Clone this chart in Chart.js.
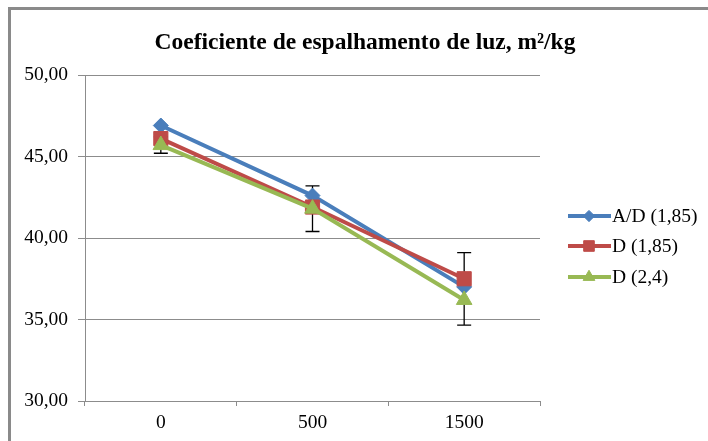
<!DOCTYPE html>
<html>
<head>
<meta charset="utf-8">
<script src="https://cdn.jsdelivr.net/npm/chart.js@4/dist/chart.umd.min.js"></script>
<style>
  html, body { margin: 0; padding: 0; background: #fff; }
  #wrap { width: 708px; height: 441px; }
</style>
</head>
<body>
<div id="wrap"><canvas id="c" width="708" height="441"></canvas></div>
<script>
// Dose categories
const categories = ['0', '500', '1500'];

// Light scattering coefficient per series
const seriesNames = ['A/D (1,85)', 'D (1,85)', 'D (2,4)'];
const valuesAD185 = [46.9, 42.6, 37.0];
const valuesD185 = [46.1, 41.9, 37.5];
const valuesD24 = [45.7, 41.8, 36.2];

// Error bar ends at each category
const errLow = [45.2, 40.4, 34.65];
const errHigh = [46.2, 43.2, 39.1];

// Y-axis tick values
const yTicks = [30, 35, 40, 45, 50];

const titleText = 'Coeficiente de espalhamento de luz, m²/kg';
const SERIF = '"Liberation Serif", "Times New Roman", serif';

const colors = ['#4A7EBB', '#BE4B48', '#98B954'];
const pointStyles = ['rectRot', 'rect', 'triangle'];
const pointRadii = [7.5, 10, 9];

const seriesValues = [valuesAD185, valuesD185, valuesD24];

const datasets = seriesValues.map((vals, i) => ({
  label: seriesNames[i],
  data: vals,
  borderColor: colors[i],
  backgroundColor: colors[i],
  borderWidth: 4,
  pointStyle: pointStyles[i],
  pointRadius: pointRadii[i],
  pointBorderWidth: 1,
  pointBackgroundColor: colors[i],
  pointBorderColor: colors[i],
  tension: 0,
  order: 3 - i
}));

// Frame, title and custom legend
const decorations = {
  id: 'decorations',
  beforeDraw(chart) {
    const ctx = chart.ctx;
    ctx.save();
    ctx.fillStyle = '#ffffff';
    ctx.fillRect(0, 0, chart.width, chart.height);
    ctx.fillStyle = '#8a8a8a';
    ctx.fillRect(8, 7, chart.width - 8, 3);
    ctx.fillRect(8, 7, 3, chart.height - 7);
    ctx.restore();
  },
  afterDraw(chart) {
    const ctx = chart.ctx;
    ctx.save();
    ctx.fillStyle = '#000';
    ctx.font = 'bold 23.5px ' + SERIF;
    ctx.textAlign = 'center';
    ctx.textBaseline = 'middle';
    ctx.fillText(titleText, 365, 43);

    // legend entries: line + marker + label
    const rowY = [216, 246, 277];
    ctx.font = '19.5px ' + SERIF;
    ctx.textAlign = 'left';
    chart.data.datasets.forEach((ds, i) => {
      const y = rowY[i];
      ctx.strokeStyle = ds.borderColor;
      ctx.lineWidth = 4;
      ctx.beginPath();
      ctx.moveTo(568, y);
      ctx.lineTo(611, y);
      ctx.stroke();
      ctx.fillStyle = ds.borderColor;
      ctx.strokeStyle = ds.borderColor;
      ctx.lineWidth = 1;
      Chart.helpers.drawPoint(ctx, {
        pointStyle: ds.pointStyle,
        radius: ds.pointRadius * 0.75,
        borderWidth: 1
      }, 589, y);
      ctx.fillStyle = '#000';
      ctx.fillText(ds.label, 612, y + 1);
    });
    ctx.restore();
  }
};

// Vertical error bars with caps, drawn beneath the series
const errorBars = {
  id: 'errorBars',
  beforeDatasetsDraw(chart) {
    const ctx = chart.ctx;
    const xs = chart.scales.x;
    const ys = chart.scales.y;
    ctx.save();
    ctx.strokeStyle = '#000';
    ctx.lineWidth = 1.3;
    categories.forEach((c, i) => {
      const x = xs.getPixelForValue(i);
      const yl = ys.getPixelForValue(errLow[i]);
      const yh = ys.getPixelForValue(errHigh[i]);
      ctx.beginPath();
      ctx.moveTo(x, yl);
      ctx.lineTo(x, yh);
      ctx.moveTo(x - 7, yl);
      ctx.lineTo(x + 7, yl);
      ctx.moveTo(x - 7, yh);
      ctx.lineTo(x + 7, yh);
      ctx.stroke();
    });
    ctx.restore();
  }
};

new Chart(document.getElementById('c'), {
  type: 'line',
  data: { labels: categories, datasets },
  options: {
    responsive: false,
    animation: false,
    layout: { padding: { top: 75, right: 168, left: 0, bottom: 0 } },
    plugins: {
      legend: { display: false },
      title: { display: false },
      tooltip: { enabled: false }
    },
    scales: {
      x: {
        offset: true,
        grid: {
          offset: true,
          drawOnChartArea: false,
          drawTicks: true,
          tickLength: 5,
          color: '#8c8c8c'
        },
        border: { color: '#8c8c8c', width: 1 },
        ticks: {
          color: '#000',
          padding: 5,
          font: { family: SERIF, size: 19.5 }
        },
        afterFit(scale) { scale.height = 40; }
      },
      y: {
        min: 30,
        max: 50,
        afterBuildTicks(scale) {
          scale.ticks = yTicks.map(v => ({ value: v }));
        },
        grid: {
          color: '#8c8c8c',
          lineWidth: 1,
          tickLength: 7
        },
        border: { color: '#8c8c8c', width: 1 },
        ticks: {
          color: '#000',
          padding: 10,
          font: { family: SERIF, size: 19.5 },
          callback: v => v.toFixed(2).replace('.', ',')
        },
        afterFit(scale) { scale.width = 85; }
      }
    }
  },
  plugins: [decorations, errorBars]
});
</script>
</body>
</html>
